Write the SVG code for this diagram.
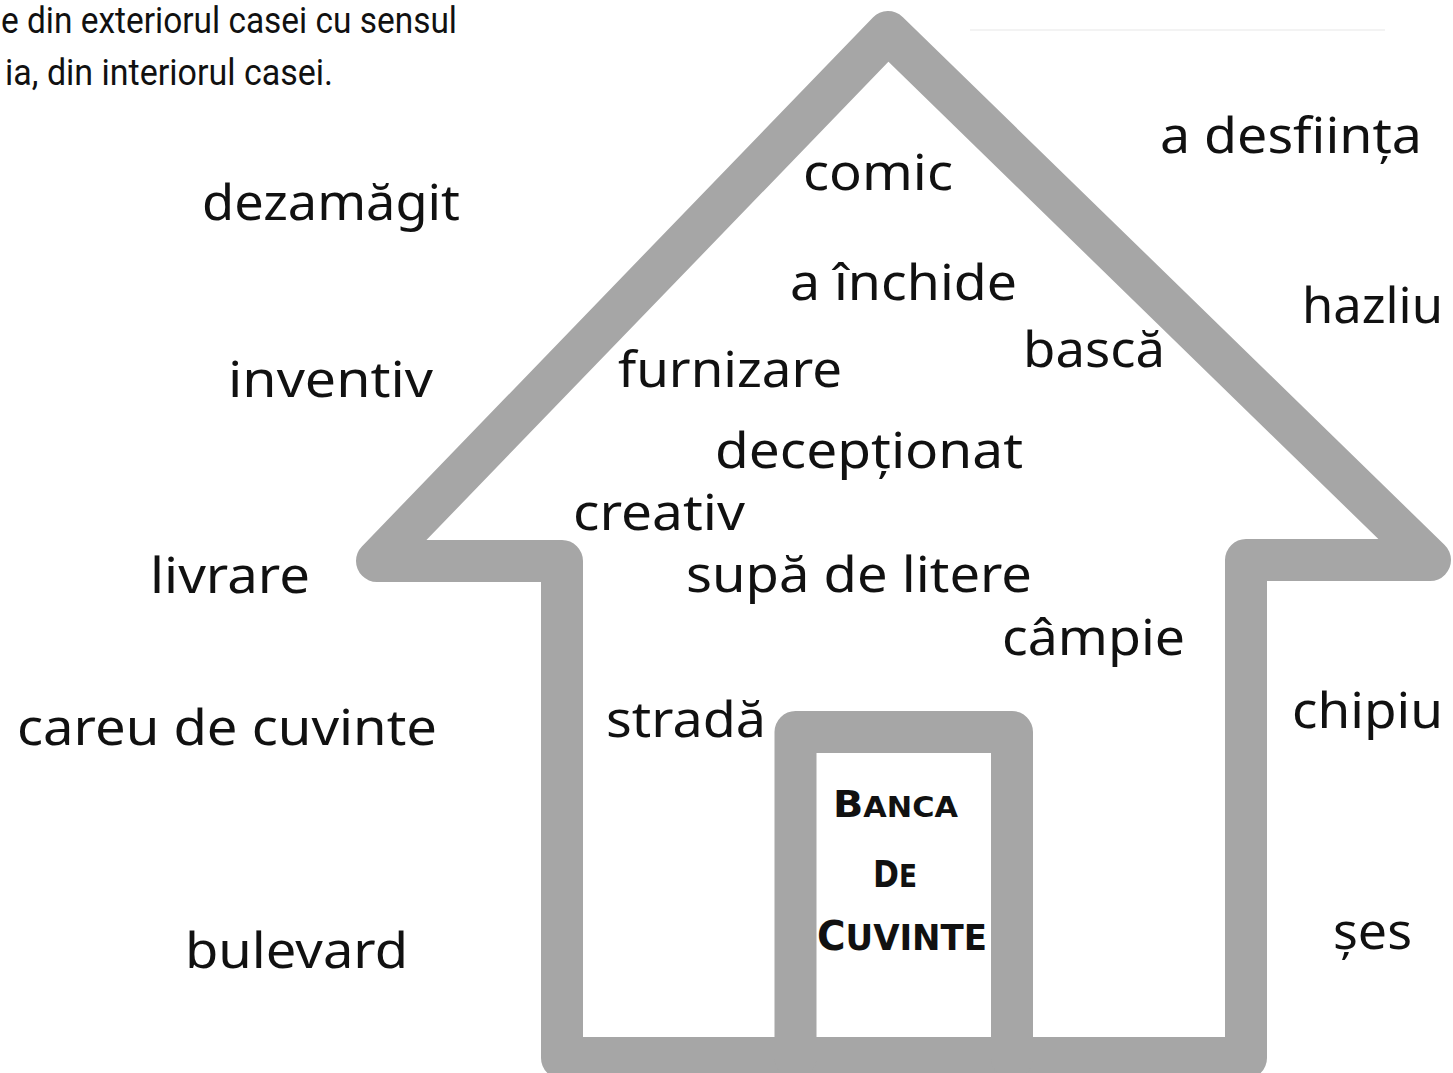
<svg xmlns="http://www.w3.org/2000/svg" width="1453" height="1073" viewBox="0 0 1453 1073">
<style>
.w{font-family:"Noto Sans","Open Sans","DejaVu Sans",sans-serif;font-size:50px;fill:#111;}
.top{font-family:"Roboto","Noto Sans",sans-serif;font-size:37px;fill:#111;}
.door{font-family:"DejaVu Sans Condensed","DejaVu Sans",sans-serif;font-weight:bold;fill:#111;}
.house{fill:none;stroke:#a6a6a6;stroke-width:42;stroke-linejoin:round;stroke-linecap:round;}
</style>
<rect width="1453" height="1073" fill="#fff"/>
<g id="header">
<text class="top" x="1" y="33" textLength="456" lengthAdjust="spacingAndGlyphs">e din exteriorul casei cu sensul</text>
<text class="top" x="5" y="85" textLength="328" lengthAdjust="spacingAndGlyphs">ia, din interiorul casei.</text>
<line x1="970" y1="30" x2="1385" y2="30" stroke="#f3f3f3" stroke-width="2"/>
</g>
<g id="house">
<path class="house" d="M562,1058 V561 H377 L888,32 L1430,560 H1246 V1058 Z"/>
<path class="house" d="M795.5,1058 V732 H1012 V1058"/>
</g>
<g id="door-label">
<text class="door" x="833" y="817" textLength="125" lengthAdjust="spacingAndGlyphs"><tspan font-size="38">B</tspan><tspan font-size="29">ANCA</tspan></text>
<text class="door" x="873" y="887" textLength="44" lengthAdjust="spacingAndGlyphs"><tspan font-size="38">D</tspan><tspan font-size="32">E</tspan></text>
<text class="door" x="817" y="950" textLength="170" lengthAdjust="spacingAndGlyphs"><tspan font-size="40">C</tspan><tspan font-size="35">UVINTE</tspan></text>
</g>
<g id="inside-words">
<g id="w-comic"><text class="w" x="803" y="190" textLength="150" lengthAdjust="spacingAndGlyphs">comic</text></g>
<g id="w-a-inchide"><text class="w" x="790" y="300" textLength="227" lengthAdjust="spacingAndGlyphs">a închide</text></g>
<g id="w-basca"><text class="w" x="1023" y="367" textLength="142" lengthAdjust="spacingAndGlyphs">bască</text></g>
<g id="w-furnizare"><text class="w" x="618" y="387" textLength="224" lengthAdjust="spacingAndGlyphs">furnizare</text></g>
<g id="w-deceptionat"><text class="w" x="715" y="468" textLength="308" lengthAdjust="spacingAndGlyphs">decepționat</text></g>
<g id="w-creativ"><text class="w" x="573" y="530" textLength="172" lengthAdjust="spacingAndGlyphs">creativ</text></g>
<g id="w-supa"><text class="w" x="686" y="592" textLength="346" lengthAdjust="spacingAndGlyphs">supă de litere</text></g>
<g id="w-campie"><text class="w" x="1002" y="655" textLength="183" lengthAdjust="spacingAndGlyphs">câmpie</text></g>
<g id="w-strada"><text class="w" x="606" y="737" textLength="160" lengthAdjust="spacingAndGlyphs">stradă</text></g>
</g>
<g id="outside-words">
<g id="w-dezamagit"><text class="w" x="202" y="220" textLength="258" lengthAdjust="spacingAndGlyphs">dezamăgit</text></g>
<g id="w-inventiv"><text class="w" x="228" y="397" textLength="205" lengthAdjust="spacingAndGlyphs">inventiv</text></g>
<g id="w-livrare"><text class="w" x="150" y="593" textLength="160" lengthAdjust="spacingAndGlyphs">livrare</text></g>
<g id="w-careu"><text class="w" x="17" y="745" textLength="420" lengthAdjust="spacingAndGlyphs">careu de cuvinte</text></g>
<g id="w-bulevard"><text class="w" x="185" y="968" textLength="223" lengthAdjust="spacingAndGlyphs">bulevard</text></g>
<g id="w-desfiinta"><text class="w" x="1160" y="153" textLength="262" lengthAdjust="spacingAndGlyphs">a desființa</text></g>
<g id="w-hazliu"><text class="w" x="1302" y="323" textLength="141" lengthAdjust="spacingAndGlyphs">hazliu</text></g>
<g id="w-chipiu"><text class="w" x="1292" y="728" textLength="151" lengthAdjust="spacingAndGlyphs">chipiu</text></g>
<g id="w-ses"><text class="w" x="1333" y="949" textLength="79" lengthAdjust="spacingAndGlyphs">șes</text></g>
</g>
</svg>
